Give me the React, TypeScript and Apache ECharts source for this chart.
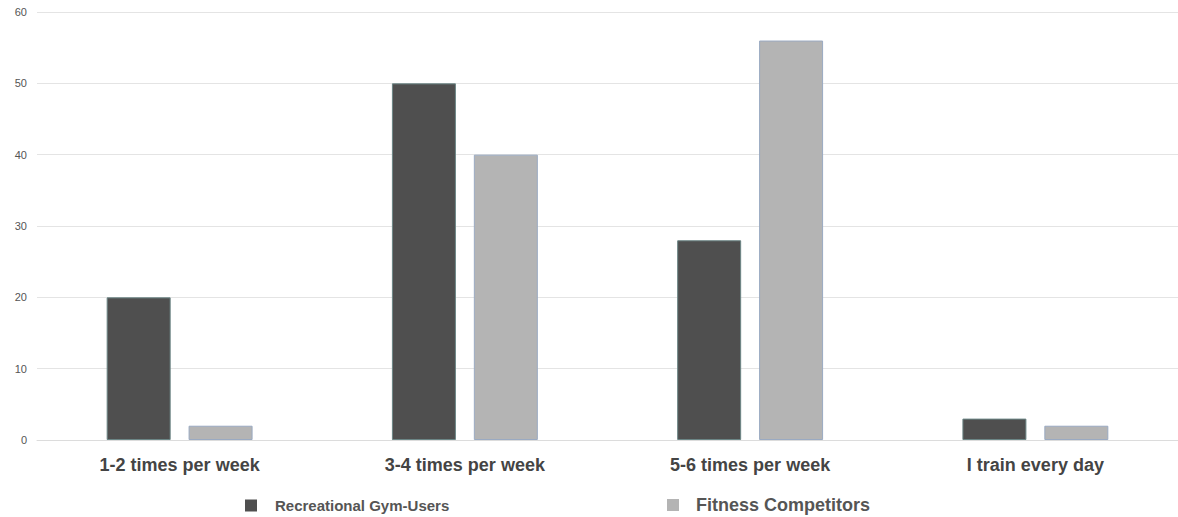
import React, { useEffect, useRef } from "react";
import * as echarts from "echarts";

const categories = ["1-2 times per week", "3-4 times per week", "5-6 times per week", "I train every day"];
const recreational = [20, 50, 28, 3];
const competitors = [2, 40, 56, 2];
const seriesNames = ["Recreational Gym-Users", "Fitness Competitors"];
const yTicks = { min: 0, max: 60, interval: 10 };

export default function App() {
  const ref = useRef<HTMLDivElement>(null);
  useEffect(() => {
    if (!ref.current) return;
    const chart = echarts.init(ref.current, null, { renderer: "svg" });
    const font = "'Liberation Sans', Arial, sans-serif";
    chart.setOption({
      animation: false,
      backgroundColor: "#ffffff",
      textStyle: { fontFamily: font },
      grid: { left: 37, top: 12, width: 1145, height: 428, containLabel: false },
      legend: [
        {
          data: [seriesNames[0]],
          left: 245,
          top: 498,
          padding: 0,
          itemWidth: 12,
          itemHeight: 12,
          icon: "rect",
          itemStyle: { borderWidth: 0 },
          textStyle: { fontFamily: font, fontSize: 15, fontWeight: "bold", color: "#555555", padding: [0, 0, 0, 13] },
        },
        {
          data: [seriesNames[1]],
          left: 667,
          top: 496,
          padding: 0,
          itemWidth: 12,
          itemHeight: 12,
          icon: "rect",
          itemStyle: { borderWidth: 0 },
          textStyle: { fontFamily: font, fontSize: 18, fontWeight: "bold", color: "#555555", padding: [0, 0, 0, 12] },
        },
      ],
      xAxis: {
        type: "category",
        data: categories,
        axisLine: { show: true, lineStyle: { color: "#dcdcdc" } },
        axisTick: { show: false },
        axisLabel: { fontFamily: font, fontSize: 18, fontWeight: "bold", color: "#444444", margin: 16 },
      },
      yAxis: {
        type: "value",
        min: yTicks.min,
        max: yTicks.max,
        interval: yTicks.interval,
        axisLine: { show: false },
        axisTick: { show: false },
        axisLabel: { fontFamily: font, fontSize: 11, color: "#555555", margin: 10 },
        splitLine: { lineStyle: { color: "#e4e4e4" } },
      },
      series: [
        {
          name: seriesNames[0],
          type: "bar",
          data: recreational,
          barWidth: 64,
          barGap: "28%",
          itemStyle: { color: "#4f4f4f", borderColor: "#6b8585", borderWidth: 1 },
        },
        {
          name: seriesNames[1],
          type: "bar",
          data: competitors,
          barWidth: 64,
          barGap: "28%",
          itemStyle: { color: "#b4b4b4", borderColor: "#9aaac2", borderWidth: 1 },
        },
      ],
    });
    return () => chart.dispose();
  }, []);
  return (
    <div
      ref={ref}
      style={{ position: "absolute", left: 0, top: 0, width: 1178, height: 517, background: "#fff" }}
    />
  );
}
